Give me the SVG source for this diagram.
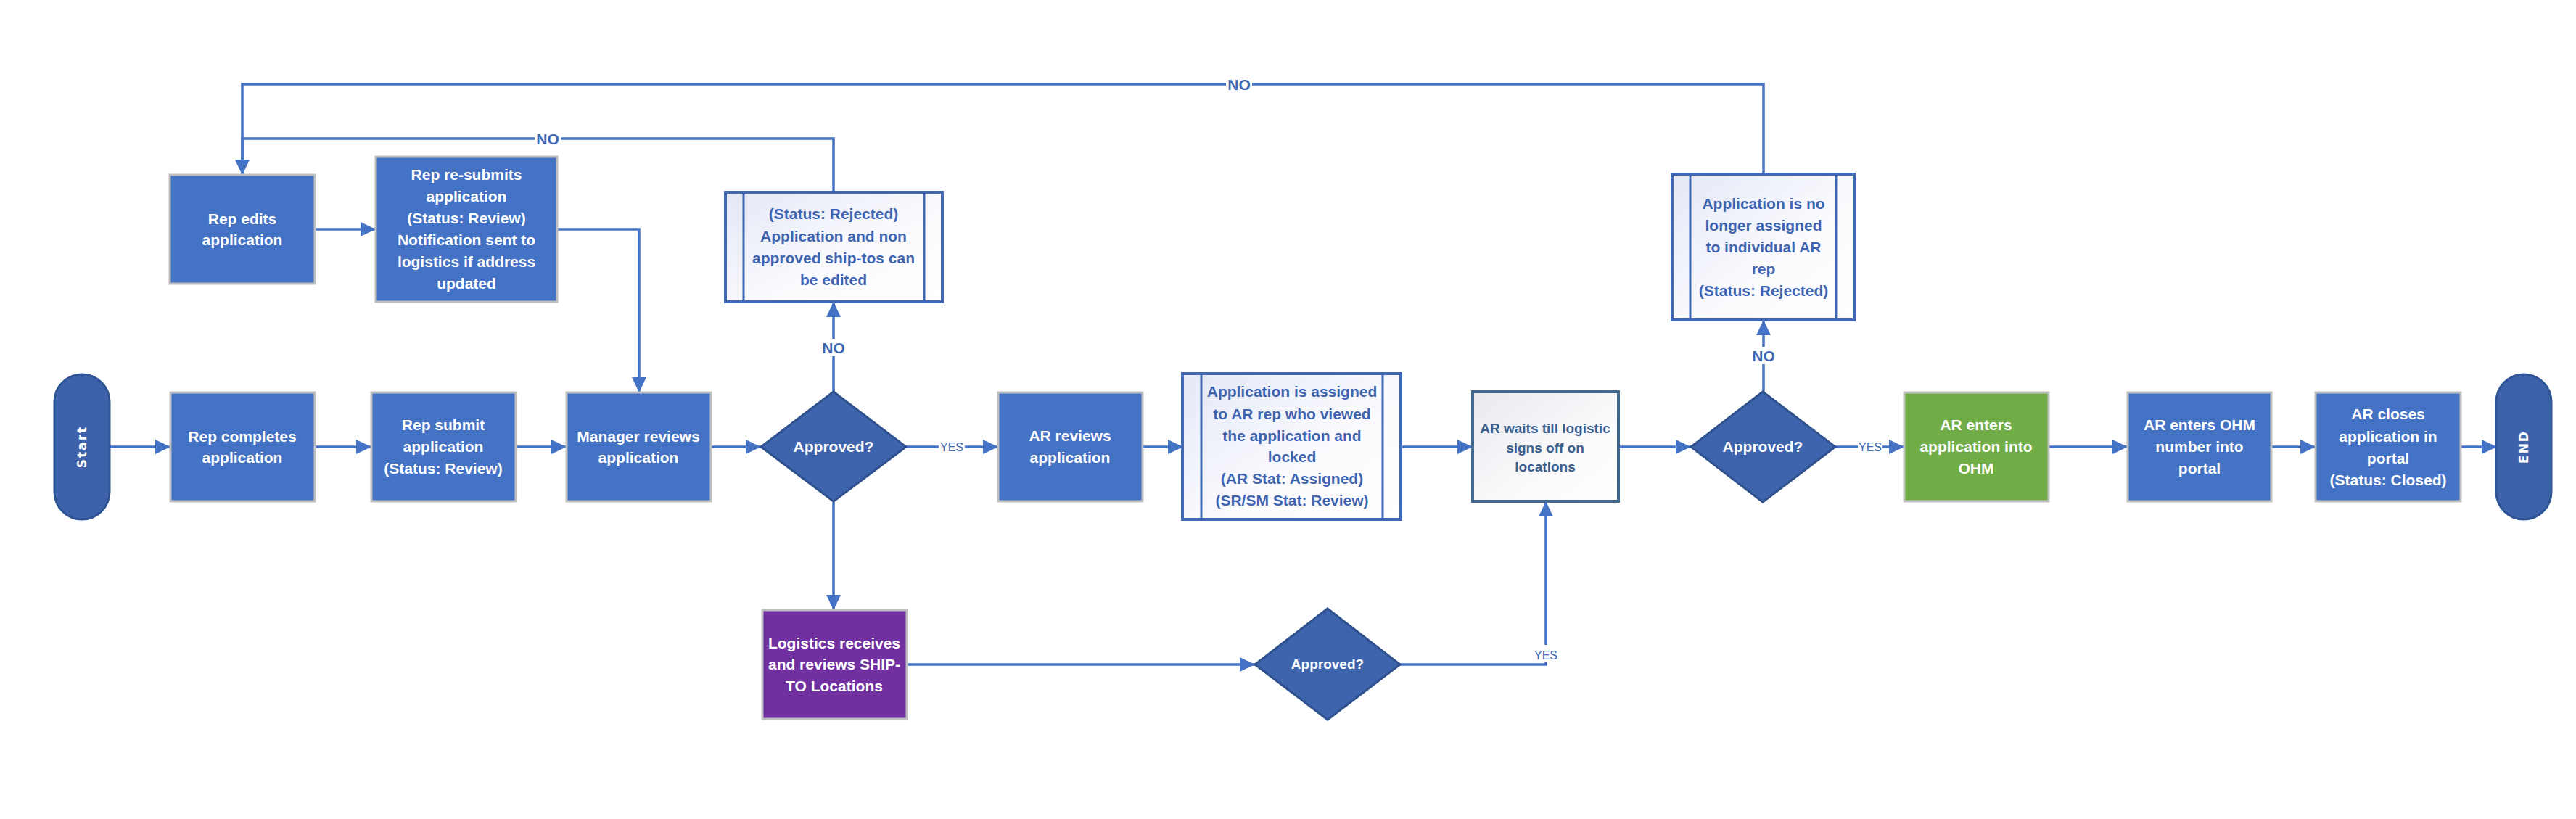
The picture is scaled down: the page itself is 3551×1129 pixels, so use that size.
<svg xmlns="http://www.w3.org/2000/svg" width="3551" height="1129" viewBox="0 0 3551 1129">
<defs>
<marker id="ah" markerUnits="userSpaceOnUse" markerWidth="22" markerHeight="22" refX="21" refY="10" orient="auto">
<path d="M0,0 L21,10 L0,20 z" fill="#4472c4"/>
</marker>
<linearGradient id="sub" x1="0" y1="0" x2="1" y2="1">
<stop offset="0" stop-color="#e4e8f6"/>
<stop offset="0.6" stop-color="#fbfbfe"/>
<stop offset="1" stop-color="#ffffff"/>
</linearGradient>
<linearGradient id="wait" x1="0" y1="0" x2="1" y2="1">
<stop offset="0" stop-color="#e8e9ee"/>
<stop offset="0.6" stop-color="#fafafc"/>
<stop offset="1" stop-color="#ffffff"/>
</linearGradient>
</defs>
<style>
.box{fill:#4472c4;stroke:#bfbfbf;stroke-width:3}
.purple{fill:#7030a0;stroke:#bfbfbf;stroke-width:3}
.green{fill:#70ad47;stroke:#bfbfbf;stroke-width:3}
.dia{fill:#3e64ad;stroke:#2f528f;stroke-width:3}
.term{fill:#3d62a9;stroke:#2f5597;stroke-width:3}
.subp{fill:url(#sub);stroke:#4068b4;stroke-width:4}
.subl{stroke:#4068b4;stroke-width:3;fill:none}
.waitb{fill:url(#wait);stroke:#41698f;stroke-width:4}
.t{font-family:"Liberation Sans",Arial,sans-serif;font-weight:bold;font-size:21px;text-anchor:middle;fill:#ffffff}
.tb{font-family:"Liberation Sans",Arial,sans-serif;font-weight:bold;font-size:21px;text-anchor:middle;fill:#3f65b0}
.tw{font-family:"Liberation Sans",Arial,sans-serif;font-weight:bold;font-size:19px;text-anchor:middle;fill:#3b5e8c}
.tt{font-family:"DejaVu Sans",Verdana,sans-serif;font-weight:bold;font-size:17px;letter-spacing:2px;text-anchor:middle;fill:#ffffff}
.lno{font-family:"Liberation Sans",Arial,sans-serif;font-weight:bold;font-size:21px;text-anchor:middle;fill:#4068b2}
.lyes{font-family:"Liberation Sans",Arial,sans-serif;font-size:16px;text-anchor:middle;fill:#4068b2}
.c{fill:none;stroke:#4472c4;stroke-width:3.5}
.lbg{fill:#ffffff}
</style>

<g id="connectors">
<path class="c" d="M151,616 H235" marker-end="url(#ah)"/>
<path class="c" d="M434,616 H512" marker-end="url(#ah)"/>
<path class="c" d="M711,616 H781" marker-end="url(#ah)"/>
<path class="c" d="M980,616 H1049" marker-end="url(#ah)"/>
<path class="c" d="M1249,616 H1376" marker-end="url(#ah)"/>
<path class="c" d="M1575,616 H1631" marker-end="url(#ah)"/>
<path class="c" d="M1932,616 H2030" marker-end="url(#ah)"/>
<path class="c" d="M2231,616 H2331" marker-end="url(#ah)"/>
<path class="c" d="M2530,616 H2625" marker-end="url(#ah)"/>
<path class="c" d="M2824,616 H2933" marker-end="url(#ah)"/>
<path class="c" d="M3131,616 H3192" marker-end="url(#ah)"/>
<path class="c" d="M3392,616 H3442" marker-end="url(#ah)"/>
<path class="c" d="M1149,540 V416" marker-end="url(#ah)"/>
<path class="c" d="M1149,265 V191 H334 V241" marker-end="url(#ah)"/>
<path class="c" d="M2431,240 V116 H334 V241" marker-end="url(#ah)"/>
<path class="c" d="M434,316 H518" marker-end="url(#ah)"/>
<path class="c" d="M768,316 H881 V541" marker-end="url(#ah)"/>
<path class="c" d="M1149,691 V841" marker-end="url(#ah)"/>
<path class="c" d="M1250,916 H1730" marker-end="url(#ah)"/>
<path class="c" d="M1930,916 H2131 V691" marker-end="url(#ah)"/>
<path class="c" d="M2431,540 V441" marker-end="url(#ah)"/>
<rect class="lbg" x="737" y="180" width="36" height="22"/>
<text class="lno" x="755" y="199">NO</text>
<rect class="lbg" x="1690" y="105" width="36" height="22"/>
<text class="lno" x="1708" y="124">NO</text>
<rect class="lbg" x="1131" y="467" width="36" height="24"/>
<text class="lno" x="1149" y="487">NO</text>
<rect class="lbg" x="2413" y="478" width="36" height="24"/>
<text class="lno" x="2431" y="498">NO</text>
<rect class="lbg" x="1294" y="606" width="36" height="20"/>
<text class="lyes" x="1312" y="622">YES</text>
<rect class="lbg" x="2561" y="606" width="34" height="20"/>
<text class="lyes" x="2578" y="622">YES</text>
<rect class="lbg" x="2115" y="889" width="34" height="24"/>
<text class="lyes" x="2131" y="909">YES</text>
</g>

<g id="start">
<rect class="term" x="75" y="516" width="76" height="200" rx="38" ry="38"/>
<text class="tt" transform="translate(119,616) rotate(-90)">Start</text>
</g>
<g id="rep-completes">
<rect class="box" x="235" y="541" width="199" height="150"/>
<text class="t" x="334" y="609">Rep completes</text>
<text class="t" x="334" y="638">application</text>
</g>
<g id="rep-submit">
<rect class="box" x="512" y="541" width="199" height="150"/>
<text class="t" x="611" y="593">Rep submit</text>
<text class="t" x="611" y="623">application</text>
<text class="t" x="611" y="653">(Status: Review)</text>
</g>
<g id="manager-reviews">
<rect class="box" x="781" y="541" width="199" height="150"/>
<text class="t" x="880" y="609">Manager reviews</text>
<text class="t" x="880" y="638">application</text>
</g>
<g id="approved-1">
<polygon class="dia" points="1149,540 1249,616 1149,691 1049,616"/>
<text class="t" x="1149" y="623">Approved?</text>
</g>
<g id="rep-edits">
<rect class="box" x="234" y="241" width="200" height="150"/>
<text class="t" x="334" y="309">Rep edits</text>
<text class="t" x="334" y="338">application</text>
</g>
<g id="rep-resubmits">
<rect class="box" x="518" y="216" width="250" height="200"/>
<text class="t" x="643" y="248">Rep re-submits</text>
<text class="t" x="643" y="278">application</text>
<text class="t" x="643" y="308">(Status: Review)</text>
<text class="t" x="643" y="338">Notification sent to</text>
<text class="t" x="643" y="368">logistics if address</text>
<text class="t" x="643" y="398">updated</text>
</g>
<g id="rejected">
<rect class="subp" x="1000" y="265" width="299" height="151"/>
<line class="subl" x1="1025" y1="265" x2="1025" y2="416"/>
<line class="subl" x1="1274" y1="265" x2="1274" y2="416"/>
<text class="tb" x="1149" y="302">(Status: Rejected)</text>
<text class="tb" x="1149" y="333">Application and non</text>
<text class="tb" x="1149" y="363">approved ship-tos can</text>
<text class="tb" x="1149" y="393">be edited</text>
</g>
<g id="ar-reviews">
<rect class="box" x="1376" y="541" width="199" height="150"/>
<text class="t" x="1475" y="608">AR reviews</text>
<text class="t" x="1475" y="638">application</text>
</g>
<g id="assigned">
<rect class="subp" x="1630" y="515" width="301" height="201"/>
<line class="subl" x1="1656" y1="515" x2="1656" y2="716"/>
<line class="subl" x1="1906" y1="515" x2="1906" y2="716"/>
<text class="tb" x="1781" y="547">Application is assigned</text>
<text class="tb" x="1781" y="578">to AR rep who viewed</text>
<text class="tb" x="1781" y="608">the application and</text>
<text class="tb" x="1781" y="637">locked</text>
<text class="tb" x="1781" y="667">(AR Stat: Assigned)</text>
<text class="tb" x="1781" y="697">(SR/SM Stat: Review)</text>
</g>
<g id="logistics">
<rect class="purple" x="1051" y="841" width="199" height="150"/>
<text class="t" x="1150" y="894">Logistics receives</text>
<text class="t" x="1150" y="923">and reviews SHIP-</text>
<text class="t" x="1150" y="953">TO Locations</text>
</g>
<g id="approved-2">
<polygon class="dia" points="1830,839 1930,916 1830,992 1730,916"/>
<text class="t" x="1830" y="922" style="font-size:19px">Approved?</text>
</g>
<g id="ar-waits">
<rect class="waitb" x="2030" y="540" width="201" height="151"/>
<text class="tw" x="2130" y="597">AR waits till logistic</text>
<text class="tw" x="2130" y="624">signs off on</text>
<text class="tw" x="2130" y="650">locations</text>
</g>
<g id="approved-3">
<polygon class="dia" points="2430,540 2530,616 2430,692 2331,616"/>
<text class="t" x="2430" y="623">Approved?</text>
</g>
<g id="no-longer-assigned">
<rect class="subp" x="2305" y="240" width="251" height="201"/>
<line class="subl" x1="2330" y1="240" x2="2330" y2="441"/>
<line class="subl" x1="2531" y1="240" x2="2531" y2="441"/>
<text class="tb" x="2431" y="288">Application is no</text>
<text class="tb" x="2431" y="318">longer assigned</text>
<text class="tb" x="2431" y="348">to individual AR</text>
<text class="tb" x="2431" y="378">rep</text>
<text class="tb" x="2431" y="408">(Status: Rejected)</text>
</g>
<g id="ar-enters-ohm">
<rect class="green" x="2625" y="541" width="199" height="150"/>
<text class="t" x="2724" y="593">AR enters</text>
<text class="t" x="2724" y="623">application into</text>
<text class="t" x="2724" y="653">OHM</text>
</g>
<g id="ar-enters-number">
<rect class="box" x="2933" y="541" width="198" height="150"/>
<text class="t" x="3032" y="593">AR enters OHM</text>
<text class="t" x="3032" y="623">number into</text>
<text class="t" x="3032" y="653">portal</text>
</g>
<g id="ar-closes">
<rect class="box" x="3192" y="541" width="200" height="150"/>
<text class="t" x="3292" y="578">AR closes</text>
<text class="t" x="3292" y="609">application in</text>
<text class="t" x="3292" y="639">portal</text>
<text class="t" x="3292" y="669">(Status: Closed)</text>
</g>
<g id="end">
<rect class="term" x="3441" y="516" width="76" height="200" rx="38" ry="38"/>
<text class="tt" transform="translate(3485,616) rotate(-90)">END</text>
</g>
</svg>
